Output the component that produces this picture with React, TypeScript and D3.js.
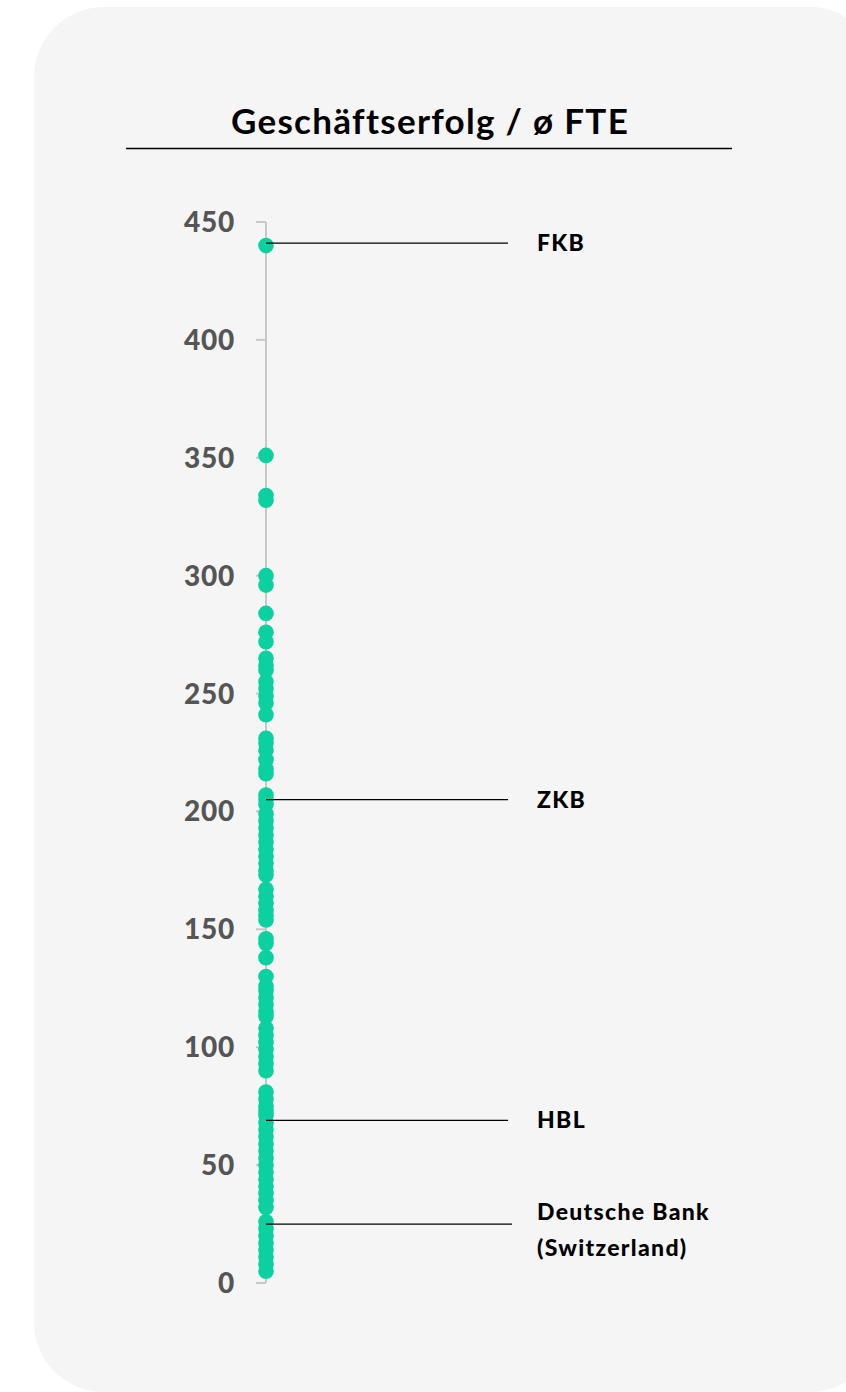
import React from "react";
import * as d3 from "d3";

const values: number[] = [
  440, 351, 334, 332, 300, 296, 284, 276, 272, 265, 262, 260, 255, 252, 249, 246, 241,
  231, 229, 226, 222, 218, 216, 207, 205, 203, 199, 196, 193, 190, 187, 184, 181, 178,
  175, 173, 167, 164, 161, 158, 156, 154, 146, 144, 138, 130, 126, 124, 121, 118, 115,
  113, 108, 105, 102, 99, 96, 93, 90, 81, 78, 75, 73, 71, 68, 65, 62, 59, 56, 53, 50,
  47, 44, 41, 38, 35, 32, 26, 23, 20, 17, 14, 11, 8, 5,
];

const labelNames: string[][] = [["FKB"], ["ZKB"], ["HBL"], ["Deutsche Bank", "(Switzerland)"]];
const labelValues: number[] = [441, 205, 69, 25];
const lineEnds: number[] = [508, 508, 508, 512];

const tickValues: number[] = [0, 50, 100, 150, 200, 250, 300, 350, 400, 450];
const title = "Geschäftserfolg / ø FTE";

export default function App() {
  const W = 846;
  const H = 1392;
  const axisX = 266;
  const y = d3.scaleLinear().domain([0, 450]).range([1283, 222]);
  const font = "Lato, 'Open Sans', sans-serif";

  return (
    <svg
      width={W}
      height={H}
      style={{ position: "absolute", left: 0, top: 0, display: "block" }}
    >
      <rect x={0} y={0} width={W} height={H} fill="#ffffff" />
      <rect x={34} y={7} width={846} height={1385} rx={70} ry={70} fill="#f5f5f5" />

      <text
        x={430}
        y={134}
        textAnchor="middle"
        fontFamily={font}
        fontWeight={700}
        fontSize={35}
        letterSpacing={1.3}
        fill="#000"
      >
        {title}
      </text>
      <line x1={126} x2={732} y1={148.5} y2={148.5} stroke="#000" strokeWidth={1.5} />

      {/* axis */}
      <line x1={axisX} x2={axisX} y1={y(450)} y2={y(0)} stroke="#c8c8c8" strokeWidth={2} />
      {tickValues.map((t) => (
        <g key={t}>
          <line x1={axisX - 10} x2={axisX} y1={y(t)} y2={y(t)} stroke="#c8c8c8" strokeWidth={2} />
          <text
            x={235}
            y={y(t) + 10}
            textAnchor="end"
            fontFamily={font}
            fontWeight={900}
            fontSize={28}
            letterSpacing={0.8}
            fill="#555555"
          >
            {t}
          </text>
        </g>
      ))}

      {/* dots */}
      {values.map((v, i) => (
        <circle key={i} cx={axisX} cy={y(v)} r={7.8} fill="#0bd09f" />
      ))}

      {/* labels */}
      {labelNames.map((lines, i) => {
        const ly = y(labelValues[i]);
        const n = lines.length;
        return (
          <g key={i}>
            <line x1={axisX} x2={lineEnds[i]} y1={ly} y2={ly} stroke="#000" strokeWidth={1.2} />
            {lines.map((s, j) => (
              <text
                key={j}
                x={537}
                y={n > 1 ? ly - 4 + j * 36 : ly + 8}
                fontFamily={font}
                fontWeight={900}
                fontSize={23}
                letterSpacing={1.3}
                fill="#000"
              >
                {s}
              </text>
            ))}
          </g>
        );
      })}
    </svg>
  );
}
